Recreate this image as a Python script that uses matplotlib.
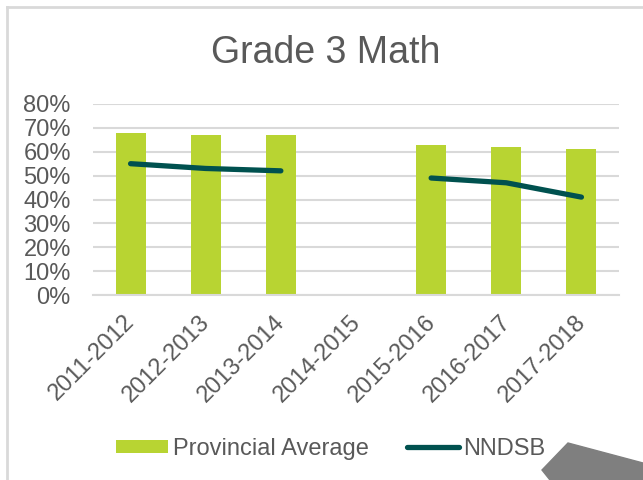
import numpy as np
import matplotlib
matplotlib.use("Agg")
import matplotlib.pyplot as plt
from matplotlib.lines import Line2D
from matplotlib.patches import Polygon
from matplotlib.transforms import ScaledTranslation

years = ["2011-2012", "2012-2013", "2013-2014", "2014-2015",
         "2015-2016", "2016-2017", "2017-2018"]
provincial = [0.68, 0.67, 0.67, np.nan, 0.63, 0.62, 0.61]
nndsb = [0.55, 0.53, 0.52, np.nan, 0.49, 0.47, 0.41]
yticks = [0, 0.1, 0.2, 0.3, 0.4, 0.5, 0.6, 0.7, 0.8]

plt.rcParams['font.family'] = ['Liberation Sans', 'DejaVu Sans']
txt = '#595959'
grid = '#D9D9D9'

W, H = 643, 480
fig = plt.figure(figsize=(W / 100, H / 100), dpi=100)
ax = fig.add_axes([93 / W, 1 - 295 / H, (619 - 93) / W, (295 - 104) / H])

x = np.arange(len(years))
bars = ax.bar(x, provincial, width=0.4, color='#B8D432', label='Provincial Average', zorder=2)
line, = ax.plot(x, nndsb, color='#00514F', lw=3.8, solid_capstyle='round',
                solid_joinstyle='round', label='NNDSB', zorder=3)

ax.set_xlim(-0.5, len(years) - 0.5)
ax.set_ylim(0, 0.8)
ax.set_yticks(yticks)
ax.set_yticklabels([f"{int(round(v * 100))}%" for v in yticks])
ax.set_xticks(x)
ax.set_xticklabels(years)
ax.grid(axis='y', color=grid, lw=1.5, zorder=0)
ax.set_axisbelow(True)
for s in ['top', 'right', 'left']:
    ax.spines[s].set_visible(False)
ax.spines['bottom'].set_color(grid)
ax.spines['bottom'].set_linewidth(1.5)
ax.tick_params(axis='y', length=0, pad=16, labelsize=17, labelcolor=txt)
ax.tick_params(axis='x', length=0, pad=17, labelsize=17, labelcolor=txt)
offset = ScaledTranslation(0.01, 0, fig.dpi_scale_trans)
for lab in ax.get_xticklabels():
    lab.set_rotation(45)
    lab.set_ha('right')
    lab.set_va('center')
    lab.set_rotation_mode('anchor')
    lab.set_transform(lab.get_transform() + offset)

fig.text(326 / W, 1 - 63 / H, "Grade 3 Math", ha='center', va='baseline',
         fontsize=27, color=txt)

fig.legend([bars, line], ['Provincial Average', 'NNDSB'], loc='center',
           bbox_to_anchor=(331 / W, 1 - 449 / H), ncol=2,
           frameon=False, fontsize=17, labelcolor=txt, handlelength=2.2,
           handleheight=0.5, handletextpad=0.2, columnspacing=1.6)

# chart border (cropped at right and bottom)
fig.add_artist(Line2D([7 / W, 7 / W], [0, 1 - 7 / H], color=grid, lw=2))
fig.add_artist(Line2D([7 / W, 1], [1 - 7 / H, 1 - 7 / H], color=grid, lw=2))

# gray arrow shape in the corner
pts = [(550, 480), (542, 470), (568, 443), (643, 463), (643, 480)]
fig.add_artist(Polygon([(px / W, 1 - py / H) for px, py in pts], closed=True,
                       transform=fig.transFigure, color='#7F7F7F', zorder=5))

fig.savefig("out.png", dpi=100)
